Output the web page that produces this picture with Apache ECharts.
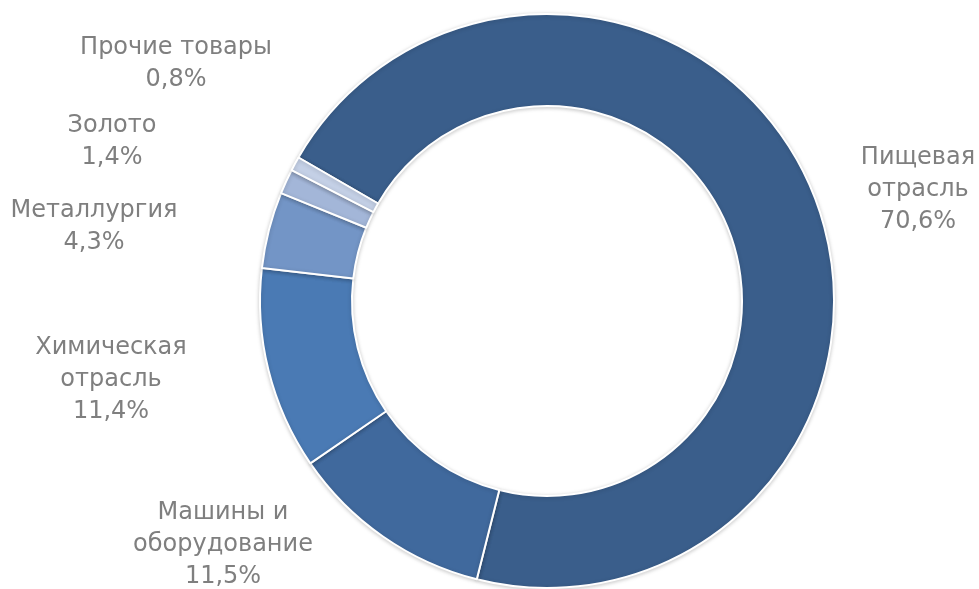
<!DOCTYPE html>
<html>
<head>
<meta charset="utf-8">
<script src="https://cdn.jsdelivr.net/npm/echarts@6/dist/echarts.min.js"></script>
<style>
html,body{margin:0;padding:0;background:#fff;}
#chart{width:979px;height:589px;}
</style>
</head>
<body>
<div id="chart"></div>
<script>
// Data
const categories = ['Пищевая\nотрасль', 'Машины и\nоборудование', 'Химическая\nотрасль', 'Металлургия', 'Золото', 'Прочие товары'];
const values = [70.6, 11.5, 11.4, 4.3, 1.4, 0.8];
const colors = ['#3A5E8B', '#40699D', '#4A7AB4', '#7395C6', '#A3B6D8', '#C4D0E6'];
// label anchor points (layout only)
const labelAnchors = [[918, 190], [223, 545], [111, 380], [94, 227], [112, 142], [176, 64]];

const chart = echarts.init(document.getElementById('chart'));
chart.setOption({
  animation: false,
  series: [{
    type: 'pie',
    center: [547, 301],
    radius: [195, 287],
    startAngle: 150,
    clockwise: true,
    avoidLabelOverlap: false,
    itemStyle: {
      borderColor: '#ffffff',
      borderWidth: 2,
      shadowBlur: 4,
      shadowColor: 'rgba(0,0,0,0.2)',
      shadowOffsetY: 1
    },
    label: {
      show: true,
      position: 'outside',
      color: '#7F7F7F',
      fontFamily: 'DejaVu Sans',
      fontSize: 24,
      lineHeight: 32,
      align: 'center',
      formatter: p => p.name + '\n' + String(p.value).replace('.', ',') + '%'
    },
    labelLine: { show: false },
    labelLayout: p => ({
      x: labelAnchors[p.dataIndex][0],
      y: labelAnchors[p.dataIndex][1],
      align: 'center',
      verticalAlign: 'middle'
    }),
    data: categories.map((c, i) => ({ name: c, value: values[i], itemStyle: { color: colors[i] } }))
  }]
});
</script>
</body>
</html>
